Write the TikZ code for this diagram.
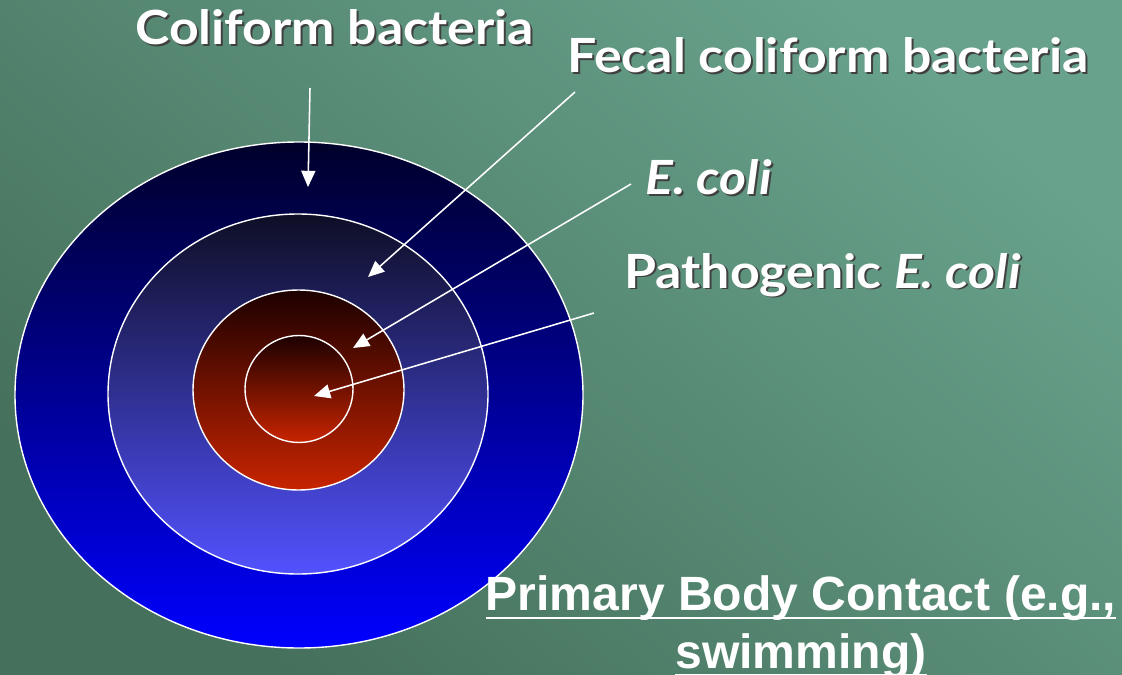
\documentclass[tikz,border=0pt]{standalone}
\usepackage{fontspec}
\setmainfont{Lato}[FakeStretch=1.1]
\newfontfamily\arialfont{Liberation Sans}
\usetikzlibrary{arrows.meta}
\definecolor{seaTop}{HTML}{68A28C}
\definecolor{seaBot}{HTML}{45705B}
\definecolor{navyDark}{HTML}{00002A}
\definecolor{navyBright}{HTML}{0000FF}
\definecolor{midDark}{HTML}{0E0E26}
\definecolor{midLight}{HTML}{5252FF}
\definecolor{rustDark}{HTML}{1C0000}
\definecolor{rustLight}{HTML}{C82400}
% white text with a dark drop shadow
\newcommand\shtext[1]{\leavevmode\rlap{\kern1.4pt\raisebox{-1.4pt}{\color{black!75}#1}}#1}
% underline at a fixed depth
\newcommand\ulin[1]{\setbox0\hbox{#1}\rlap{\rule[-6pt]{\wd0}{1.6pt}}\box0}

\begin{document}
\begin{tikzpicture}[x=0.025cm, y=-0.025cm, >={Triangle[length=11.5pt, width=10pt]},
    ring/.style={draw=white, line width=1pt},
    lab/.style={text=white, inner sep=0pt, anchor=base west,
                font=\fontsize{33.5}{38}\selectfont\bfseries},
    ptr/.style={->, draw=white, line width=1.1pt}]

  \shade[top color=seaTop, bottom color=seaBot, shading angle=-40] (0,0) rectangle (1122,675);
  \useasboundingbox (0,0) rectangle (1122,675);

  \shadedraw[ring, top color=navyDark, bottom color=navyBright] (299,395) ellipse (284 and 253);
  \shadedraw[ring, top color=midDark, bottom color=midLight]   (298,394) ellipse (190 and 180);
  \shadedraw[ring, top color=rustDark, bottom color=rustLight] (298.5,390) ellipse (105.5 and 100);
  \shadedraw[ring, top color=rustDark, bottom color=rustLight] (299,389) ellipse (54 and 53.5);

  \node[lab] (coli)  at (135,45)  {\shtext{Coliform bacteria}};
  \node[lab] (fecal) at (567,73)  {\shtext{Fecal coliform bacteria}};
  \node[lab] (ecoli) at (645,195) {\shtext{\textit{E. coli}}};
  \node[lab] (patho) at (624,288) {\shtext{Pathogenic \textit{E. coli}}};

  \node[text=white, align=center, inner sep=0pt, anchor=base,
        font=\arialfont\fontsize{34.2}{41}\selectfont\bfseries] (contact) at (801,668)
        {\ulin{Primary Body Contact (e.g.,}\\\ulin{swimming)}};

  \coordinate (colTail) at (310,88);  \coordinate (colTip) at (308,187);
  \coordinate (fecTail) at (575,92);  \coordinate (fecTip) at (368,277);
  \coordinate (ecoTail) at (631,184); \coordinate (ecoTip) at (353,348);
  \coordinate (patTail) at (594,313); \coordinate (patTip) at (314,396);

  \foreach \a/\b in {colTail/colTip, fecTail/fecTip, ecoTail/ecoTip, patTail/patTip} {
    \draw[ptr] (\a) -- (\b);
  }

\end{tikzpicture}
\end{document}
